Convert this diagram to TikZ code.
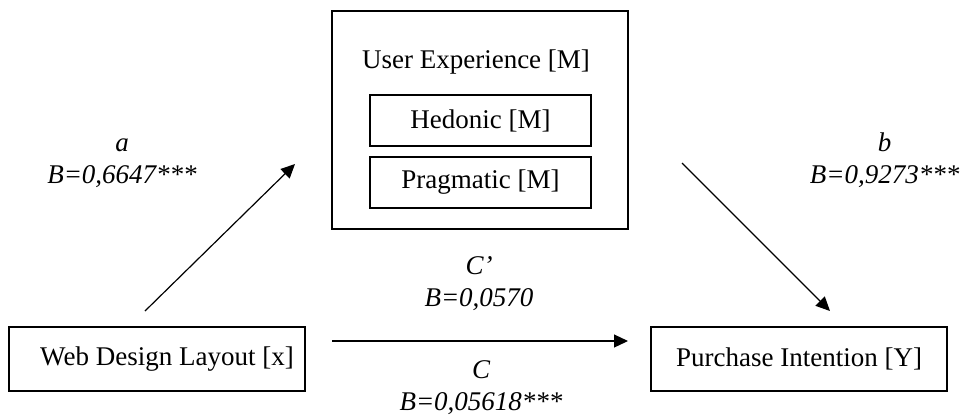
\documentclass[tikz,border=0pt]{standalone}
\usepackage{fontspec}
\setmainfont{Liberation Serif}
\usepackage{tikz}
\usetikzlibrary{arrows.meta}

\begin{document}
\begin{tikzpicture}[x=0.5pt,y=-0.5pt,
	box/.style={draw,line width=0.65pt,inner sep=0pt,font=\fontsize{13.5}{16}\selectfont},
	txt/.style={inner sep=0pt,font=\fontsize{13.5}{16}\selectfont},
	lbl/.style={align=center,inner sep=0pt,font=\fontsize{13.5}{16}\selectfont\itshape},
	link/.style={-{Triangle[length=7pt,width=6.5pt]},line width=0.6pt}]
	\useasboundingbox (0,0) rectangle (963,414);
	\node[box,minimum width=148pt,minimum height=109pt] (UX) at (480,120) {};
	\node[txt] (UXtitle) at (476,62) {User Experience [M]};
	\node[box,minimum width=110.5pt,minimum height=25.5pt] (Hedonic) at (480.5,120.5) {Hedonic [M]};
	\node[box,minimum width=110.5pt,minimum height=25.5pt] (Pragmatic) at (480.5,182.5) {Pragmatic [M]};
	\node[box,minimum width=148pt,minimum height=32pt] (X) at (157,359) {\hspace{10pt}Web Design Layout [x]};
	\node[box,minimum width=148pt,minimum height=32pt] (Y) at (799,359) {Purchase Intention [Y]};
	\coordinate (aStart) at (145,311);
	\coordinate (aEnd) at (295,164);
	\coordinate (bStart) at (682,163);
	\coordinate (bEnd) at (830,311);
	\coordinate (cStart) at (332,341);
	\coordinate (cEnd) at (628,341);
	\draw[link] (aStart) -- (aEnd);
	\draw[link] (bStart) -- (bEnd);
	\draw[link] (cStart) -- (cEnd);
	\node[lbl] (aLabel) at (122,163.5) {a\\B=0,6647***};
	\node[lbl] (bLabel) at (884.5,160) {b\\B=0,9273***};
	\node[lbl] (cpLabel) at (479,284) {C’\\B=0,0570};
	\node[lbl] (cLabel) at (481,388) {C\\B=0,05618***};
\end{tikzpicture}
\end{document}
